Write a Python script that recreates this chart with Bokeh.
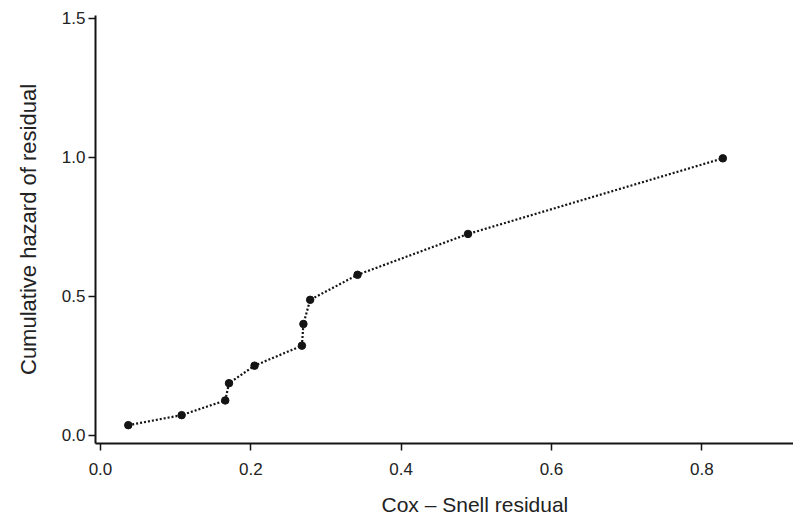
from bokeh.plotting import figure
from bokeh.models import Range1d, FixedTicker, Title, NumeralTickFormatter
from bokeh.embed import file_html
from bokeh.resources import INLINE

# Cox-Snell residuals vs cumulative hazard
residual = [0.037, 0.108, 0.166, 0.171, 0.205, 0.268, 0.270, 0.279, 0.342, 0.489, 0.828]
cum_hazard = [0.036, 0.072, 0.125, 0.187, 0.250, 0.322, 0.400, 0.487, 0.577, 0.724, 0.996]

x_ticks = [0.0, 0.2, 0.4, 0.6, 0.8]
y_ticks = [0.0, 0.5, 1.0, 1.5]
x_label = "Cox – Snell residual"
y_label = "Cumulative hazard of residual"

FONT = "Liberation Sans"
INK = "#141414"

p = figure(width=793, height=529, output_backend="svg", toolbar_location=None,
           x_range=Range1d(-0.0066, 0.922), y_range=Range1d(-0.03, 1.51),
           min_border_left=95, min_border_right=0, min_border_top=15, min_border_bottom=82)

p.grid.visible = False
p.outline_line_color = None
p.background_fill_color = "white"
p.border_fill_color = "white"

for ax in (p.xaxis, p.yaxis):
    ax.axis_line_color = INK
    ax.axis_line_width = 2
    ax.major_tick_line_color = INK
    ax.major_tick_line_width = 1.5
    ax.major_tick_out = 7
    ax.major_tick_in = 0
    ax.minor_tick_line_color = None
    ax.major_label_text_font = FONT
    ax.major_label_text_font_size = "17px"
    ax.major_label_text_color = "#222222"
    ax.formatter = NumeralTickFormatter(format="0.0")

p.xaxis.ticker = FixedTicker(ticks=x_ticks)
p.yaxis.ticker = FixedTicker(ticks=y_ticks)
p.xaxis.major_label_standoff = 12
p.yaxis.major_label_standoff = 3

p.yaxis.axis_label = y_label
p.yaxis.axis_label_text_font = FONT
p.yaxis.axis_label_text_font_size = "22px"
p.yaxis.axis_label_text_font_style = "normal"
p.yaxis.axis_label_text_color = "#222222"
p.yaxis.axis_label_standoff = 18

p.line(residual, cum_hazard, line_color=INK, line_width=2.2, line_dash="2 2")
p.scatter(residual, cum_hazard, size=7.5, fill_color=INK, line_color=INK)

xt = Title(text=x_label, align="left", offset=286, standoff=27,
           text_font=FONT, text_font_size="21px", text_font_style="normal",
           text_color="#222222", text_line_height=0.7)
p.add_layout(xt, "below")

open("out.html", "w").write(file_html(p, INLINE))
